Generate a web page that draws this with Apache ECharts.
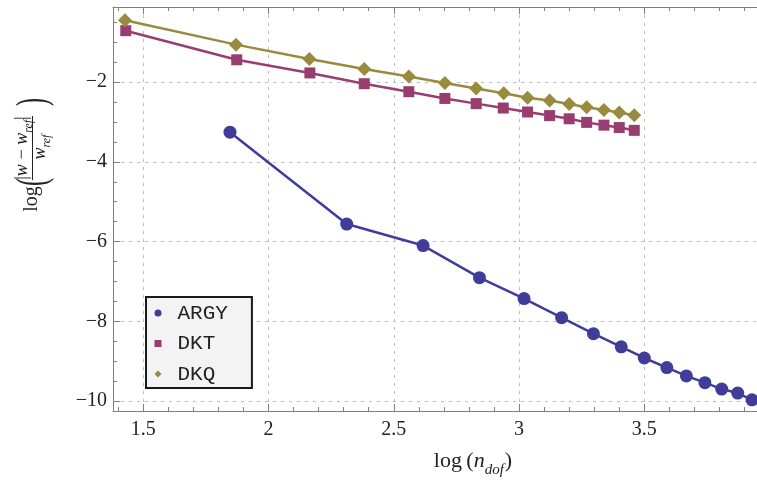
<!DOCTYPE html>
<html>
<head>
<meta charset="utf-8">
<script src="https://cdn.jsdelivr.net/npm/echarts@6/dist/echarts.min.js"></script>
<style>html,body{margin:0;padding:0;background:#fff;}#c{width:757px;height:482px;}</style>
</head>
<body>
<div id="c"></div>
<script>
// ---- data ----
var argyX = [1.846, 2.312, 2.617, 2.842, 3.020, 3.170, 3.297, 3.408, 3.500, 3.590, 3.668, 3.742, 3.809, 3.873, 3.930];
var argyY = [-3.256, -5.56, -6.10, -6.905, -7.43, -7.91, -8.31, -8.64, -8.92, -9.16, -9.37, -9.54, -9.70, -9.80, -9.97];
var dktX = [1.430, 1.873, 2.165, 2.382, 2.560, 2.704, 2.829, 2.937, 3.034, 3.122, 3.200, 3.270, 3.339, 3.400, 3.460];
var dktY = [-0.71, -1.44, -1.77, -2.04, -2.24, -2.41, -2.54, -2.65, -2.75, -2.84, -2.92, -3.01, -3.08, -3.14, -3.21];
var dkqX = [1.427, 1.870, 2.163, 2.382, 2.560, 2.704, 2.829, 2.939, 3.034, 3.122, 3.200, 3.270, 3.339, 3.400, 3.460];
var dkqY = [-0.45, -1.06, -1.42, -1.67, -1.86, -2.02, -2.16, -2.28, -2.39, -2.46, -2.55, -2.63, -2.70, -2.76, -2.83];
var seriesNames = ['ARGY', 'DKT', 'DKQ'];
var xMajorTicks = [1.5, 2, 2.5, 3, 3.5];
var xMinorTicks = [1.4, 1.6, 1.7, 1.8, 1.9, 2.1, 2.2, 2.3, 2.4, 2.6, 2.7, 2.8, 2.9, 3.1, 3.2, 3.3, 3.4, 3.6, 3.7, 3.8, 3.9];
var yMajorTicks = [-10, -8, -6, -4, -2];
var yMinorTicks = [-9.5, -9, -8.5, -7.5, -7, -6.5, -5.5, -5, -4.5, -3.5, -3, -2.5, -1.5, -1, -0.5];
var xRange = [1.379, 3.95];
var yRange = [-10.25, -0.116];

function pairs(xs, ys) { return xs.map(function (x, i) { return [x, ys[i]]; }); }

var axisGray = '#808080';
var serif = 'Liberation Serif';
var colors = ['#3f3d99', '#993d71', '#998b3d'];

function xAx(pos, major, showLine, showLabel) {
  return {
    type: 'value', position: pos, min: xRange[0], max: xRange[1],
    axisLine: { show: showLine, onZero: false, lineStyle: { color: axisGray, width: 1 } },
    axisTick: { show: true, inside: true, length: major ? 7 : 4, customValues: major ? xMajorTicks : xMinorTicks, lineStyle: { color: axisGray } },
    axisLabel: { show: showLabel, customValues: xMajorTicks, fontFamily: serif, fontSize: 20, color: '#222', margin: 9,
      formatter: function (v) { return String(v); } },
    splitLine: { show: major && pos === 'bottom', lineStyle: { color: '#bdbdbd', type: [3, 5], width: 1 } }
  };
}
function yAx(major, showLine, showLabel) {
  return {
    type: 'value', position: 'left', min: yRange[0], max: yRange[1],
    axisLine: { show: showLine, onZero: false, lineStyle: { color: axisGray, width: 1 } },
    axisTick: { show: true, inside: true, length: major ? 7 : 4, customValues: major ? yMajorTicks : yMinorTicks, lineStyle: { color: axisGray } },
    axisLabel: { show: showLabel, customValues: yMajorTicks, fontFamily: serif, fontSize: 20, color: '#222', margin: 6,
      formatter: function (v) { return v < 0 ? '\u2212' + (-v) : String(v); } },
    splitLine: { show: major, lineStyle: { color: '#bdbdbd', type: [3, 5], width: 1 } }
  };
}

var chart = echarts.init(document.getElementById('c'), null, { renderer: 'canvas' });

var ySub = { fontSize: 12, lineHeight: 12, verticalAlign: 'bottom', fontStyle: 'italic', fontFamily: serif, fill: '#222' };
var yMain = { fontSize: 18, lineHeight: 21, verticalAlign: 'top', fontStyle: 'italic', fontFamily: serif, fill: '#222' };
var yUp = { fontSize: 18, lineHeight: 21, verticalAlign: 'top', fontFamily: serif, fill: '#222' };

function rotText(x, y, style, extra) {
  var el = { type: 'text', x: x, y: y, rotation: Math.PI / 2, silent: true,
    style: Object.assign({ x: 0, y: 0, align: 'center', verticalAlign: 'middle', fill: '#222', fontFamily: serif }, style) };
  if (extra) Object.assign(el, extra);
  return el;
}

var option = {
  animation: false,
  backgroundColor: '#fff',
  color: colors,
  grid: { left: 113, right: 0, top: 7, bottom: 71, containLabel: false },
  xAxis: [xAx('bottom', true, true, true), xAx('bottom', false, false, false), xAx('top', true, true, false), xAx('top', false, false, false)],
  yAxis: [yAx(true, true, true), yAx(false, false, false)],
  legend: {
    orient: 'vertical', left: 146, top: 297,
    padding: [5, 24, 3, 8.5], itemGap: 8.5, itemWidth: 7, itemHeight: 7,
    backgroundColor: '#f3f3f3', borderColor: '#1a1a1a', borderWidth: 2, borderRadius: 0,
    textStyle: { fontFamily: 'Liberation Mono', fontSize: 21, color: '#222', lineHeight: 22, padding: [0, 0, 0, 11] },
    data: [
      { name: seriesNames[0], icon: 'circle' },
      { name: seriesNames[1], icon: 'rect' },
      { name: seriesNames[2], icon: 'diamond' }
    ]
  },
  series: [
    { name: seriesNames[0], type: 'line', data: pairs(argyX, argyY), symbol: 'circle', symbolSize: 13,
      lineStyle: { width: 2.5, color: colors[0] }, itemStyle: { color: colors[0] }, xAxisIndex: 0, yAxisIndex: 0 },
    { name: seriesNames[1], type: 'line', data: pairs(dktX, dktY), symbol: 'rect', symbolSize: 11,
      lineStyle: { width: 2.5, color: colors[1] }, itemStyle: { color: colors[1] }, xAxisIndex: 0, yAxisIndex: 0 },
    { name: seriesNames[2], type: 'line', data: pairs(dkqX, dkqY), symbol: 'diamond', symbolSize: 14,
      lineStyle: { width: 2.5, color: colors[2] }, itemStyle: { color: colors[2] }, xAxisIndex: 0, yAxisIndex: 0 }
  ],
  graphic: [
    // x axis title
    { type: 'text', x: 473, y: 464, silent: true,
      style: { x: 0, y: 0, align: 'center', verticalAlign: 'middle',
        text: '{r|log\u2009(}{i|n}{s|dof}{r|)}',
        rich: {
          r: { fontSize: 22, lineHeight: 28, verticalAlign: 'top', fontFamily: serif, fill: '#222' },
          i: { fontSize: 22, lineHeight: 28, verticalAlign: 'top', fontStyle: 'italic', fontFamily: serif, fill: '#222' },
          s: { fontSize: 15, lineHeight: 15, verticalAlign: 'bottom', fontStyle: 'italic', fontFamily: serif, fill: '#222', padding: [0, 1, 0, 0] }
        } } },
    // y axis title pieces (rotated)
    rotText(31.5, 199, { text: 'log', fontSize: 20 }),
    rotText(34, 182, { text: '(', fontSize: 24 }, { scaleY: 1.8 }),
    rotText(34, 102, { text: ')', fontSize: 24 }, { scaleY: 1.8 }),
    rotText(24, 148, { text: '{u||}{m|w\u2009\u2212\u2009w}{s|ref}{u||}', rich: { u: yUp, m: yMain, s: ySub } }),
    rotText(42, 147, { text: '{m|w}{s|ref}', rich: { m: yMain, s: ySub } }),
    { type: 'line', silent: true, shape: { x1: 32.5, y1: 116, x2: 32.5, y2: 180 }, style: { stroke: '#222', lineWidth: 1 } }
  ]
};
chart.setOption(option);
</script>
</body>
</html>
